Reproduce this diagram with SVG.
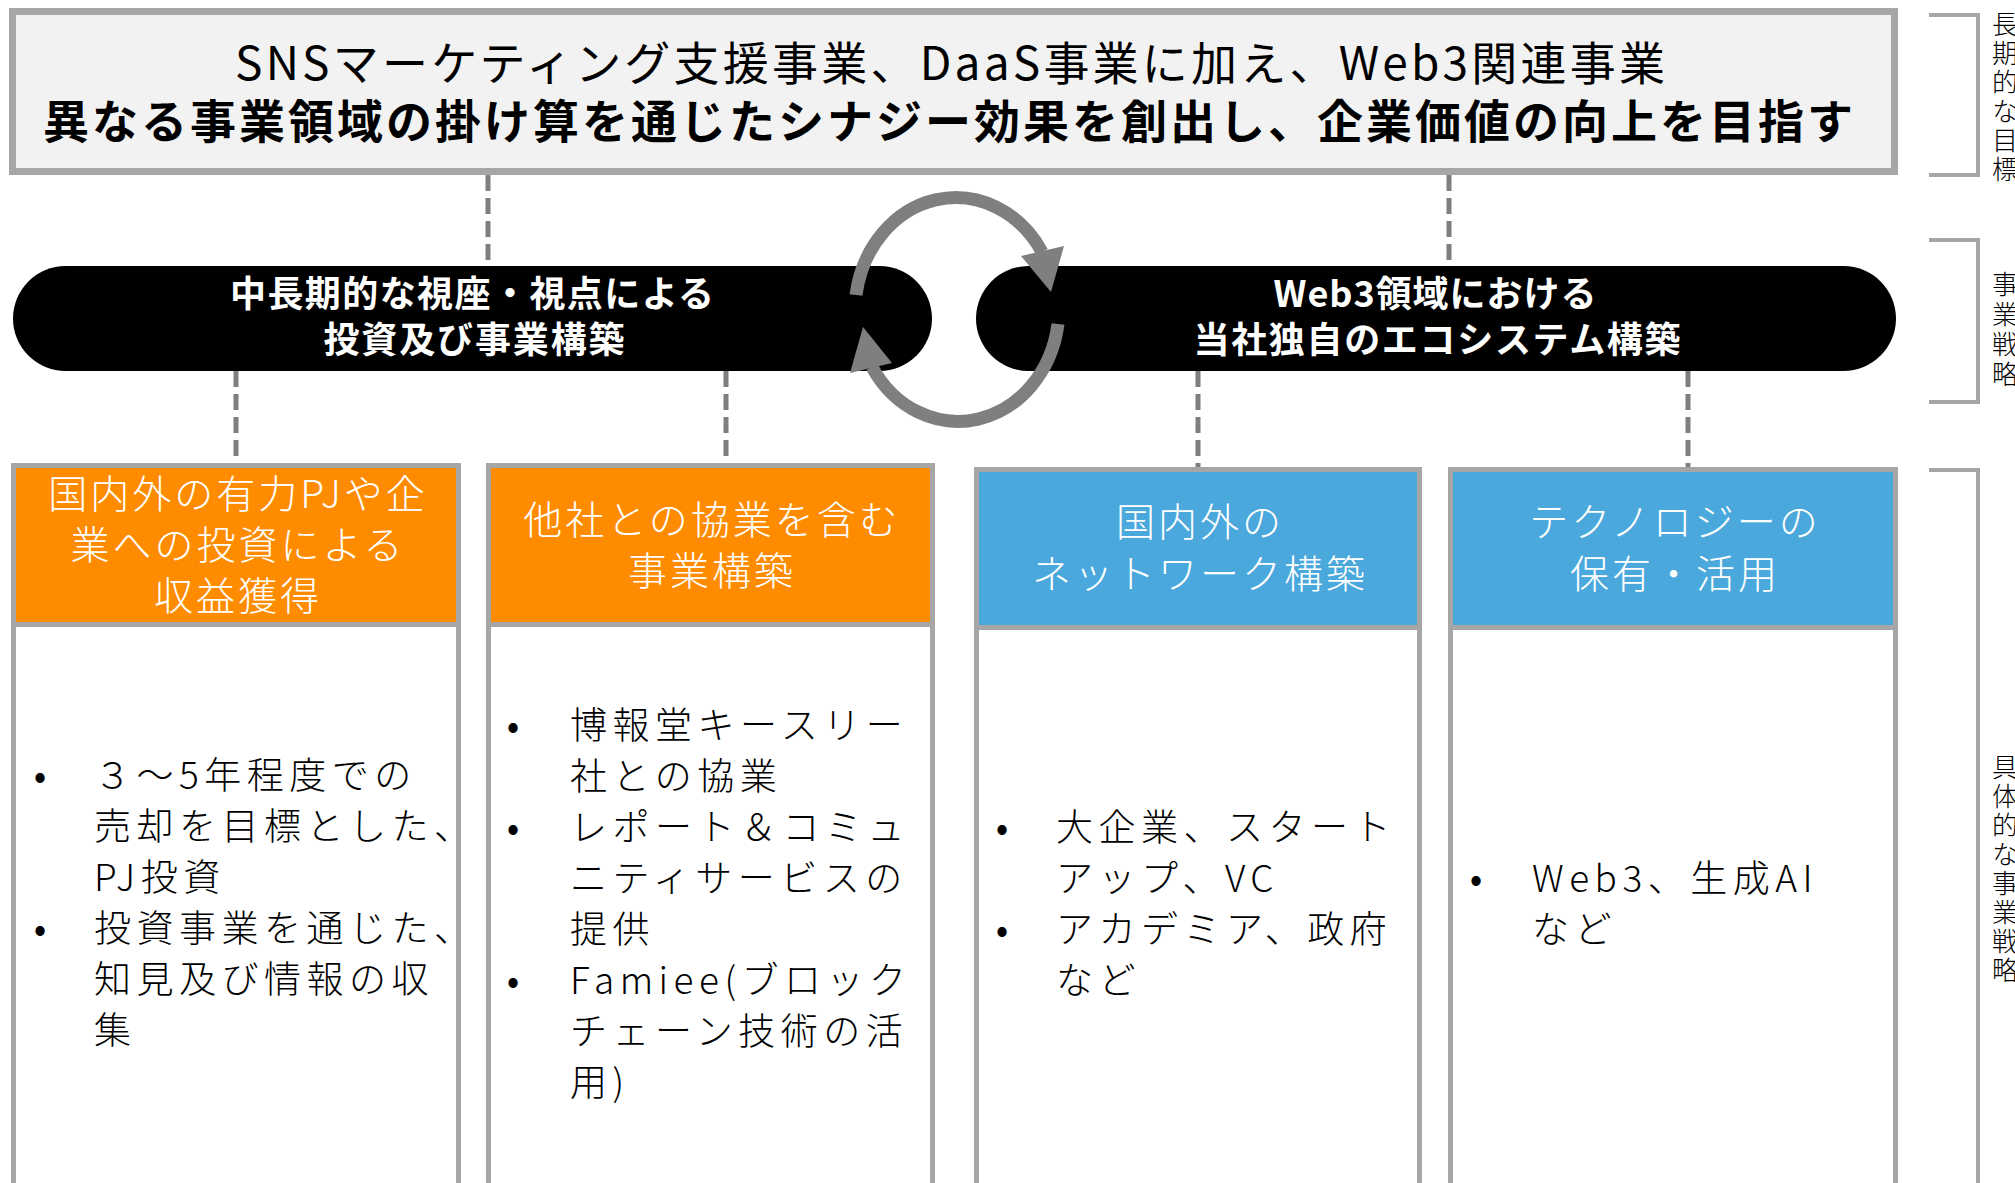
<svg xmlns="http://www.w3.org/2000/svg" width="2015" height="1183" viewBox="0 0 2015 1183">
<style>
.jp{font-family:'Noto Sans CJK JP','Noto Sans',sans-serif}
.t1{font-size:46px;fill:#000;font-weight:400}
.t2{font-size:46px;font-weight:700;fill:#000}
.pt{font-size:36px;font-weight:700;fill:#fff}
.ht{font-size:39px;fill:#fff;letter-spacing:3px;font-weight:300}
.bt{font-size:37px;fill:#000;letter-spacing:5.5px;font-weight:300}
.bul{font-size:37px;fill:#000}
.box{fill:#fff;stroke:#a6a6a6;stroke-width:5}
.div{stroke:#a6a6a6;stroke-width:5}
.dash{stroke:#7f7f7f;stroke-width:5;stroke-dasharray:16 7;fill:none}
.brk{fill:none;stroke:#a6a6a6;stroke-width:4}
.vt{font-size:26px;fill:#000;font-weight:300;writing-mode:vertical-rl;text-orientation:upright;letter-spacing:3px}
.cyc{fill:none;stroke:#7f7f7f;stroke-width:13}
.ah{fill:#7f7f7f}
.or{fill:#ff8c00}
.bl{fill:#4aa8dc}
</style>
<rect width="2015" height="1183" fill="#fff"/>

<g id="connectors">
<path class="dash" d="M488 175V266M1449 175V266M236 371V463M726 371V463M1198 371V467M1688 371V467"/>
</g>

<g id="goal">
<rect x="12.5" y="11.5" width="1882" height="160" fill="#f2f2f2" stroke="#a6a6a6" stroke-width="7"/>
<text class="jp t1" x="950" y="80" text-anchor="middle" textLength="1430">SNSマーケティング支援事業、DaaS事業に加え、Web3関連事業</text>
<text class="jp t2" x="948" y="138" text-anchor="middle" textLength="1810">異なる事業領域の掛け算を通じたシナジー効果を創出し、企業価値の向上を目指す</text>
</g>

<g id="pill-left">
<rect x="13" y="266" width="919" height="105" rx="52.5" fill="#000"/>
<text class="jp pt" x="472" y="307" text-anchor="middle" textLength="484">中長期的な視座・視点による</text>
<text class="jp pt" x="474" y="353" text-anchor="middle" textLength="301">投資及び事業構築</text>
</g>

<g id="pill-right">
<rect x="976" y="266" width="920" height="105" rx="52.5" fill="#000"/>
<text class="jp pt" x="1435" y="307" text-anchor="middle" textLength="323">Web3領域における</text>
<text class="jp pt" x="1437" y="353" text-anchor="middle" textLength="487">当社独自のエコシステム構築</text>
</g>

<g id="cycle">
<path class="cyc" d="M856 295A101 114 0 0 1 1042 252"/>
<polygon class="ah" points="1021,256 1064,246 1051,292"/>
<path class="cyc" d="M1058 324A101 114 0 0 1 872 367"/>
<polygon class="ah" points="850,373 892,363 863,327"/>
</g>

<g id="box1">
<rect class="box" x="13.5" y="465.5" width="445" height="722"/>
<rect class="or" x="16" y="468" width="440" height="154"/>
<line class="div" x1="13.5" y1="624.5" x2="458.5" y2="624.5"/>
<text class="jp ht" x="238" y="508" text-anchor="middle">国内外の有力PJや企</text>
<text class="jp ht" x="238" y="559" text-anchor="middle">業への投資による</text>
<text class="jp ht" x="238" y="610" text-anchor="middle">収益獲得</text>
<text class="jp bul" x="40" y="789" text-anchor="middle">•</text>
<text class="jp bul" x="40" y="942" text-anchor="middle">•</text>
<text class="jp bt" x="94" y="789">３～5年程度での</text>
<text class="jp bt" x="94" y="840">売却を目標とした、</text>
<text class="jp bt" x="94" y="891">PJ投資</text>
<text class="jp bt" x="94" y="942">投資事業を通じた、</text>
<text class="jp bt" x="94" y="993">知見及び情報の収</text>
<text class="jp bt" x="94" y="1044">集</text>
</g>

<g id="box2">
<rect class="box" x="488.5" y="465.5" width="444" height="722"/>
<rect class="or" x="491" y="468" width="439" height="154"/>
<line class="div" x1="488.5" y1="624.5" x2="932.5" y2="624.5"/>
<text class="jp ht" x="712" y="534" text-anchor="middle">他社との協業を含む</text>
<text class="jp ht" x="712" y="585" text-anchor="middle">事業構築</text>
<text class="jp bul" x="513" y="739" text-anchor="middle">•</text>
<text class="jp bul" x="513" y="841" text-anchor="middle">•</text>
<text class="jp bul" x="513" y="994" text-anchor="middle">•</text>
<text class="jp bt" x="570" y="739">博報堂キースリー</text>
<text class="jp bt" x="570" y="790">社との協業</text>
<text class="jp bt" x="570" y="841">レポート＆コミュ</text>
<text class="jp bt" x="570" y="892">ニティサービスの</text>
<text class="jp bt" x="570" y="943">提供</text>
<text class="jp bt" x="570" y="994">Famiee(ブロック</text>
<text class="jp bt" x="570" y="1045">チェーン技術の活</text>
<text class="jp bt" x="570" y="1096">用)</text>
</g>

<g id="box3">
<rect class="box" x="976.5" y="469.5" width="443" height="718"/>
<rect class="bl" x="979" y="472" width="438" height="153"/>
<line class="div" x1="976.5" y1="627.5" x2="1419.5" y2="627.5"/>
<text class="jp ht" x="1200" y="536" text-anchor="middle">国内外の</text>
<text class="jp ht" x="1200" y="588" text-anchor="middle">ネットワーク構築</text>
<text class="jp bul" x="1002" y="841" text-anchor="middle">•</text>
<text class="jp bul" x="1002" y="943" text-anchor="middle">•</text>
<text class="jp bt" x="1056" y="841">大企業、スタート</text>
<text class="jp bt" x="1056" y="892">アップ、VC</text>
<text class="jp bt" x="1056" y="943">アカデミア、政府</text>
<text class="jp bt" x="1056" y="994">など</text>
</g>

<g id="box4">
<rect class="box" x="1450.5" y="469.5" width="445" height="718"/>
<rect class="bl" x="1453" y="472" width="440" height="153"/>
<line class="div" x1="1450.5" y1="627.5" x2="1895.5" y2="627.5"/>
<text class="jp ht" x="1675" y="536" text-anchor="middle">テクノロジーの</text>
<text class="jp ht" x="1675" y="588" text-anchor="middle">保有・活用</text>
<text class="jp bul" x="1476" y="892" text-anchor="middle">•</text>
<text class="jp bt" x="1532" y="892">Web3、生成AI</text>
<text class="jp bt" x="1532" y="943">など</text>
</g>

<g id="label-goal">
<path class="brk" d="M1929 15H1978V175H1929"/>
<text class="jp vt" x="2005" y="11">長期的な目標</text>
</g>
<g id="label-strategy">
<path class="brk" d="M1929 240H1978V402H1929"/>
<text class="jp vt" x="2005" y="271" style="letter-spacing:4px">事業戦略</text>
</g>
<g id="label-concrete">
<path class="brk" d="M1929 470H1978V1190"/>
<text class="jp vt" x="2005" y="754">具体的な事業戦略</text>
</g>
</svg>
